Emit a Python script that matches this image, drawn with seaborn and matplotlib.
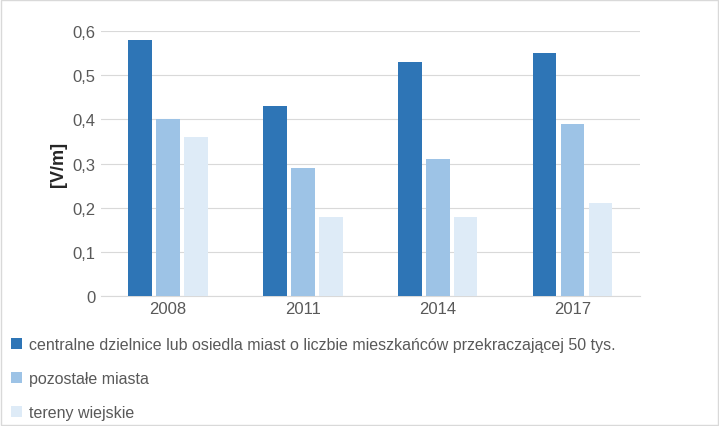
import matplotlib
matplotlib.use("Agg")
import matplotlib.pyplot as plt
import seaborn as sns
import pandas as pd
from matplotlib.patches import Patch, Rectangle

years = ["2008", "2011", "2014", "2017"]
series = ["centralne dzielnice lub osiedla miast o liczbie mieszkańców przekraczającej 50 tys.",
          "pozostałe miasta", "tereny wiejskie"]
central = [0.58, 0.43, 0.53, 0.55]
other = [0.40, 0.29, 0.31, 0.39]
rural = [0.36, 0.18, 0.18, 0.21]
yticks = [0, 0.1, 0.2, 0.3, 0.4, 0.5, 0.6]
ytick_labels = ["0", "0,1", "0,2", "0,3", "0,4", "0,5", "0,6"]
colors = ["#2E75B6", "#9DC3E6", "#DEEBF7"]

rows = []
for s, vals in zip(series, [central, other, rural]):
    for y, v in zip(years, vals):
        rows.append({"year": y, "series": s, "value": v})
df = pd.DataFrame(rows)

plt.rcParams["font.family"] = "Liberation Sans"
fig = plt.figure(figsize=(7.19, 4.27), dpi=100)
ax = fig.add_axes([0.140, 0.304, 0.750, 0.621])
sns.barplot(data=df, x="year", y="value", hue="series", palette=colors, saturation=1,
            width=0.62, gap=0.15, ax=ax, legend=False, zorder=3)
ax.set_ylim(0, 0.6)
ax.set_yticks(yticks)
ax.set_yticklabels(ytick_labels, fontsize=12, color="#595959")
ax.tick_params(axis="x", labelsize=12, colors="#595959", length=0)
ax.tick_params(axis="y", length=0)
ax.set_xlabel("")
ax.set_ylabel("[V/m]", fontsize=13, fontweight="bold", color="#262626")
ax.grid(axis="y", color="#D9D9D9", linewidth=0.8, zorder=0)
for s in ["top", "right", "left"]:
    ax.spines[s].set_visible(False)
ax.spines["bottom"].set_color("#D9D9D9")

handles = [Patch(facecolor=c) for c in colors]
fig.legend(handles, series, loc="upper left", bbox_to_anchor=(0.0, 0.235),
           frameon=False, fontsize=11.5, labelcolor="#595959",
           handlelength=0.7, handleheight=0.7, handletextpad=0.4,
           labelspacing=1.2, borderaxespad=0.3)
fig.patches.append(Rectangle((0.001, 0.002), 0.997, 0.996, transform=fig.transFigure,
                             fill=False, edgecolor="#D9D9D9", linewidth=1))
fig.savefig("out.png", dpi=100)
